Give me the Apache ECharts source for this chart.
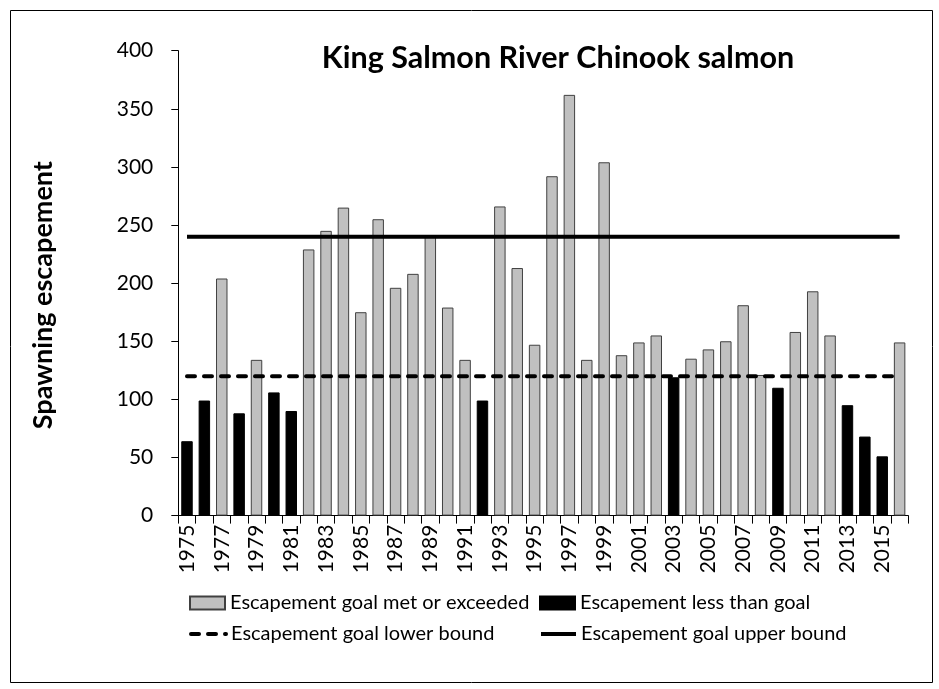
<!DOCTYPE html>
<html><head><meta charset="utf-8">
<script src="https://cdn.jsdelivr.net/npm/echarts@6/dist/echarts.min.js"></script>
<style>html,body{margin:0;padding:0;background:#fff}#c{width:939px;height:689px}</style>
</head><body><div id="c"></div>
<script>
const years = ['1975','1976','1977','1978','1979','1980','1981','1982','1983','1984','1985','1986','1987','1988','1989','1990','1991','1992','1993','1994','1995','1996','1997','1998','1999','2000','2001','2002','2003','2004','2005','2006','2007','2008','2009','2010','2011','2012','2013','2014','2015','2016'];
const escapement = [64,99,204,88,134,106,90,229,245,265,175,255,196,208,240,179,134,99,266,213,147,292,362,134,304,138,149,155,119,135,143,150,181,121,110,158,193,155,95,68,51,149];
const goalLower = 120;
const goalUpper = 240;
const yTicks = [0,50,100,150,200,250,300,350,400];

const met = escapement.map(v => v >= goalLower ? v : null);
const below = escapement.map(v => v < goalLower ? v : null);
const lowerLine = years.map(() => goalLower);
const upperLine = years.map(() => goalUpper);

const FONT = 'Lato';
const chart = echarts.init(document.getElementById('c'), null, {renderer: 'canvas'});
const legendText = {fontFamily: FONT, fontSize: 20, color: '#000'};
const lg = (name, left, top, extra) => Object.assign({data: [name], left: left, top: top, padding: 0,
  itemWidth: 35, itemHeight: 13, textStyle: legendText}, extra || {});
chart.setOption({
  animation: false,
  backgroundColor: '#fff',
  graphic: [{type: 'rect', left: 8, top: 8, shape: {width: 922, height: 672}, style: {fill: 'none', stroke: '#000', lineWidth: 1}}],
  title: {text: 'King Salmon River Chinook salmon', left: 553, top: 38, textAlign: 'center',
    textStyle: {fontFamily: FONT, fontWeight: 'bold', fontSize: 30.5, color: '#000'}},
  grid: {left: 178.3, right: 30.7, top: 50.7, bottom: 173.4, containLabel: false},
  legend: [
    lg('Escapement goal met or exceeded', 189, 593, {icon: 'rect'}),
    lg('Escapement less than goal', 539, 593, {icon: 'rect'}),
    lg('Escapement goal lower bound', 189, 624, {itemStyle: {opacity: 0}, lineStyle: {width: 4, type: [8, 9], cap: 'round'}}),
    lg('Escapement goal upper bound', 539, 624, {itemStyle: {opacity: 0}, lineStyle: {width: 4}})
  ],
  xAxis: {type: 'category', data: years, boundaryGap: true,
    axisLine: {lineStyle: {color: '#000', width: 1}},
    axisTick: {show: true, length: 8, interval: 0, lineStyle: {color: '#000'}},
    axisLabel: {interval: 1, rotate: 90, fontFamily: FONT, fontSize: 21, color: '#000', margin: 9}},
  yAxis: {type: 'value', min: 0, max: 400, interval: 50,
    name: 'Spawning escapement', nameLocation: 'middle', nameGap: 122,
    nameTextStyle: {fontFamily: FONT, fontWeight: 'bold', fontSize: 27, color: '#000', padding: [0, 24, 0, 0]},
    axisLine: {show: true, lineStyle: {color: '#000', width: 1}},
    axisTick: {show: true, length: 7, lineStyle: {color: '#000'}},
    splitLine: {show: false},
    axisLabel: {fontFamily: FONT, fontSize: 21, color: '#000', margin: 25,
      formatter: v => yTicks.includes(v) ? String(v) : ''}},
  series: [
    {name: 'Escapement goal met or exceeded', type: 'bar', stack: 'e', data: met, barCategoryGap: '34%',
      itemStyle: {color: '#c0c0c0', borderColor: '#404040', borderWidth: 1}},
    {name: 'Escapement less than goal', type: 'bar', stack: 'e', data: below, barCategoryGap: '34%',
      itemStyle: {color: '#000', borderColor: '#000', borderWidth: 1}},
    {name: 'Escapement goal lower bound', type: 'line', data: lowerLine, symbol: 'none', z: 5,
      lineStyle: {color: '#000', width: 4, type: [8, 9], cap: 'round'}, itemStyle: {color: '#000'}},
    {name: 'Escapement goal upper bound', type: 'line', data: upperLine, symbol: 'none', z: 5,
      lineStyle: {color: '#000', width: 4, type: 'solid'}, itemStyle: {color: '#000'}}
  ]
});
</script></body></html>
